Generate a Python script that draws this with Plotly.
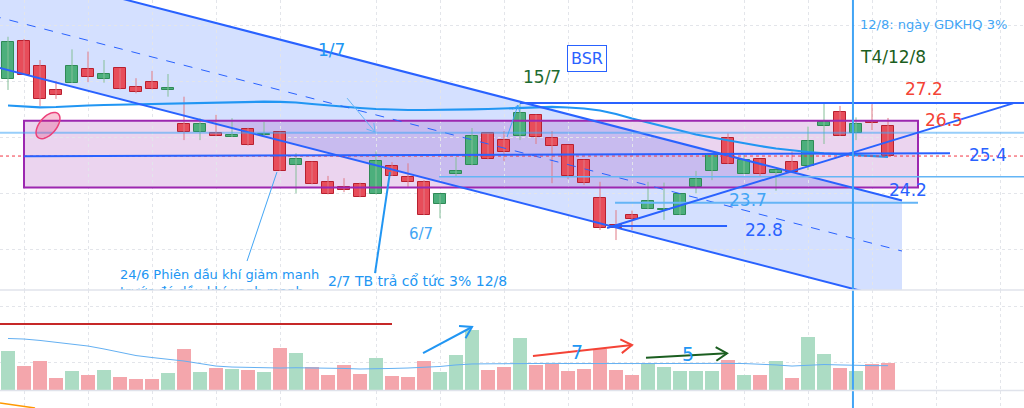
import math

import plotly.graph_objects as go

# --------------------------------------------------------------------------- #
# Data: BSR daily candles (price in thousand VND, volume in million shares)    #
# --------------------------------------------------------------------------- #

OPEN = [28.06, 29.43, 28.54, 27.68, 27.94, 28.44, 28.08, 28.45, 27.79, 27.95,
        27.67, 26.45, 26.17, 26.13, 26.00, 26.28, 26.06, 26.19, 24.99, 25.12,
        24.38, 24.20, 24.31, 23.95, 24.96, 24.58, 24.39, 23.61, 24.69, 24.99,
        26.13, 25.88, 26.04, 26.78, 25.98, 25.71, 25.19, 23.82, 22.85, 23.20,
        23.42, 23.38, 23.21, 24.21, 24.79, 25.98, 24.69, 25.20, 24.71, 25.10,
        24.98, 26.39, 26.90, 26.15, 26.57, 26.39]
HIGH = [29.58, 29.50, 28.75, 28.00, 29.13, 29.05, 28.75, 28.45, 28.10, 28.36,
        28.25, 27.44, 26.67, 26.79, 26.67, 26.33, 26.54, 26.19, 25.42, 25.12,
        24.61, 24.53, 24.37, 25.48, 25.10, 25.06, 24.46, 23.95, 25.28, 26.32,
        26.13, 26.21, 27.20, 26.80, 26.21, 25.71, 25.19, 24.40, 23.39, 23.37,
        24.40, 24.37, 23.95, 24.79, 25.36, 26.13, 25.36, 25.20, 24.83, 25.48,
        26.37, 27.18, 27.11, 26.70, 27.17, 26.68]
LOW = [27.68, 28.23, 27.11, 27.36, 27.93, 27.96, 27.94, 27.70, 27.56, 27.70,
       27.44, 25.89, 25.89, 26.03, 26.00, 25.69, 26.01, 24.79, 23.99, 24.31,
       23.95, 24.03, 23.85, 23.95, 24.61, 24.22, 23.21, 23.10, 24.58, 24.99,
       25.20, 25.15, 25.89, 25.75, 24.35, 24.50, 24.29, 22.68, 22.32, 22.68,
       23.42, 23.04, 23.21, 23.99, 24.46, 25.04, 24.69, 24.61, 24.08, 24.75,
       24.82, 25.75, 26.04, 25.89, 26.25, 25.32]
CLOSE = [29.38, 28.23, 27.36, 27.50, 28.55, 28.15, 28.25, 27.70, 27.61, 27.70,
         27.76, 26.17, 26.45, 26.03, 26.08, 25.73, 26.11, 24.79, 25.20, 24.31,
         23.95, 24.10, 23.85, 25.13, 24.61, 24.38, 23.21, 23.95, 24.79, 26.04,
         25.20, 25.45, 26.85, 25.99, 25.68, 24.61, 24.36, 22.74, 22.74, 23.07,
         23.71, 23.40, 23.95, 24.49, 25.36, 25.04, 25.18, 24.69, 24.83, 24.75,
         25.87, 26.55, 26.04, 26.46, 26.50, 25.32]
VOLUME = [2.79, 1.71, 2.07, 0.84, 1.36, 1.09, 1.41, 0.93, 0.81, 0.81,
          1.24, 2.93, 1.31, 1.55, 1.52, 1.45, 1.26, 3.02, 2.66, 1.64,
          1.07, 1.81, 1.16, 2.29, 0.98, 0.91, 2.07, 1.31, 2.52, 4.29,
          1.45, 1.62, 3.74, 1.79, 1.84, 1.38, 1.52, 2.91, 1.43, 1.05,
          1.91, 1.64, 1.34, 1.34, 1.34, 2.14, 1.05, 1.05, 2.05, 0.84,
          3.81, 2.59, 1.59, 1.38, 1.84, 1.91]
PRICE_MA = [27.125, 27.089, 27.061, 27.071, 27.107, 27.125, 27.143, 27.157, 27.168, 27.179,
            27.189, 27.204, 27.214, 27.225, 27.239, 27.250, 27.261, 27.257, 27.232, 27.179,
            27.125, 27.071, 27.036, 27.000, 26.975, 26.964, 26.964, 26.964, 26.975, 26.989,
            27.000, 27.025, 27.054, 27.079, 27.079, 27.054, 27.018, 26.946, 26.821, 26.661,
            26.518, 26.375, 26.232, 26.089, 25.982, 25.875, 25.786, 25.679, 25.589, 25.518,
            25.464, 25.418, 25.382, 25.350, 25.321, 25.293]
VOLUME_MA = [3.68, 3.64, 3.54, 3.39, 3.25, 3.14, 2.93, 2.68, 2.46, 2.32,
             2.21, 2.07, 1.89, 1.71, 1.64, 1.61, 1.57, 1.57, 1.59, 1.59,
             1.57, 1.54, 1.50, 1.50, 1.54, 1.57, 1.61, 1.68, 1.79, 1.86,
             1.87, 1.89, 1.91, 1.91, 1.90, 1.89, 1.90, 1.92, 1.91, 1.89,
             1.89, 1.90, 1.90, 1.89, 1.88, 1.90, 1.89, 1.86, 1.79, 1.71,
             1.79, 1.82, 1.79, 1.75, 1.74, 1.74]

BARS = list(range(len(CLOSE)))
X_GRID = [1, 5, 9, 13, 17, 23, 27, 31, 35, 39, 46, 50, 54, 58, 62]
PRICE_GRID = [22, 24, 26, 28, 30]
VOLUME_GRID = [2, 6]

# --------------------------------------------------------------------------- #
# Geometry of the panes (TradingView-like screenshot, 1024 x 408)              #
# --------------------------------------------------------------------------- #

W, H = 1024, 408
BAR_PX = 16.0            # horizontal pixels per bar
PRICE_PX = 28.0          # pixels per 1.0 price unit
VOL_PX = 14.0            # pixels per 1M shares
X_RANGE = [-0.5, W / BAR_PX - 0.5]
PRICE_RANGE = [30 - (290 - 25) / PRICE_PX, 30 + 25 / PRICE_PX]
VOL_RANGE = [0, 100 / VOL_PX]

FONT = "DejaVu Sans"
UP, UP_EDGE, UP_WICK = "#4caf7c", "#2f8a56", "#84bf98"
DOWN, DOWN_EDGE, DOWN_WICK = "#e84d5a", "#b8202f", "#e07a85"
VOL_UP, VOL_DOWN = "#acdcc4", "#f4a6ac"
BLUE, LIGHT_BLUE, SKY = "#2962ff", "#42a5f5", "#2196f3"

is_up = [c >= o for o, c in zip(OPEN, CLOSE)]


def wick_xy(idx):
    xs, ys = [], []
    for i in idx:
        xs += [i, i, None]
        ys += [LOW[i], HIGH[i], None]
    return xs, ys


def chevron(x0, y0, x1, y1, ypx, arm=12.0, spread=32):
    """Open arrow head at (x1, y1); works in pixel space, returns data path."""
    ang = math.atan2((y1 - y0) * ypx, (x1 - x0) * BAR_PX)
    pts = []
    for s in (spread, -spread):
        a = ang + math.pi + math.radians(s)
        pts.append((x1 + arm * math.cos(a) / BAR_PX, y1 + arm * math.sin(a) / ypx))
    (ax, ay), (bx, by) = pts
    return f"M {ax},{ay} L {x1},{y1} L {bx},{by}"


def seg(x0, y0, x1, y1, color, width=2, yref="y", dash="solid", layer="above"):
    return dict(type="line", xref="x", yref=yref, x0=x0, y0=y0, x1=x1, y1=y1,
                line=dict(color=color, width=width, dash=dash), layer=layer)


def arrow(x0, y0, x1, y1, color, width=2, yref="y", ypx=PRICE_PX, arm=12.0):
    return [
        seg(x0, y0, x1, y1, color, width, yref),
        dict(type="path", xref="x", yref=yref, path=chevron(x0, y0, x1, y1, ypx, arm),
             line=dict(color=color, width=width), layer="above"),
    ]


def label(text, x, y, color, size=17, yref="y", xanchor="center", **kw):
    return dict(text=text, x=x, y=y, xref="x", yref=yref, showarrow=False,
                xanchor=xanchor, yanchor="middle",
                font=dict(family=FONT, size=size, color=color), **kw)


fig = go.Figure()

# --- candles ---------------------------------------------------------------
for up, fill, edge, wick in ((True, UP, UP_EDGE, UP_WICK), (False, DOWN, DOWN_EDGE, DOWN_WICK)):
    idx = [i for i in BARS if is_up[i] == up]
    wx, wy = wick_xy(idx)
    fig.add_trace(go.Scatter(x=wx, y=wy, mode="lines", line=dict(color=wick, width=1),
                             hoverinfo="skip", showlegend=False))
    fig.add_trace(go.Bar(
        x=idx,
        base=[min(OPEN[i], CLOSE[i]) for i in idx],
        y=[max(abs(CLOSE[i] - OPEN[i]), 0.06) for i in idx],
        width=0.74,
        marker=dict(color=fill, line=dict(color=edge, width=1)),
        showlegend=False, hoverinfo="skip",
    ))

fig.add_trace(go.Scatter(x=BARS, y=PRICE_MA, mode="lines", line=dict(color=SKY, width=2.2),
                         hoverinfo="skip", showlegend=False))

# --- volume pane -----------------------------------------------------------
fig.add_trace(go.Bar(
    x=BARS, y=VOLUME, yaxis="y2", width=0.9,
    marker=dict(color=[VOL_UP if u else VOL_DOWN for u in is_up], line=dict(width=0)),
    showlegend=False, hoverinfo="skip",
))
fig.add_trace(go.Scatter(x=BARS, y=VOLUME_MA, yaxis="y2", mode="lines",
                         line=dict(color="#64b0f2", width=1), hoverinfo="skip", showlegend=False))

# bottom indicator pane (only a stub of its orange line is visible)
fig.add_trace(go.Scatter(x=[-0.5, 1.69], y=[5, 0], yaxis="y3", mode="lines",
                         line=dict(color="#ff9800", width=1.5), hoverinfo="skip", showlegend=False))

# texts that are cut by the pane border (clipped with the price pane)
fig.add_trace(go.Scatter(
    x=[7.0, 20.0], y=[20.75, 20.80], mode="text",
    text=["24/6 Phiên dầu khí giảm manh<br>trước đó dầu khí xanh manh",
          "2/7 TB trả cổ tức 3% 12/8"],
    textposition="middle right",
    textfont=dict(family=FONT, size=[13, 14], color=SKY),
    cliponaxis=True, hoverinfo="skip", showlegend=False,
))

# --------------------------------------------------------------------------- #
# Drawings                                                                     #
# --------------------------------------------------------------------------- #

CH_X = [-1.0, 55.875]
CH_UPPER = [32.14, 23.73]
CH_WIDTH = 3.605
ch_lower = [p - CH_WIDTH for p in CH_UPPER]
ch_mid = [p - CH_WIDTH / 2 for p in CH_UPPER]

shapes = [
    # parallel channel fill
    dict(type="path", xref="x", yref="y", layer="below", line=dict(width=0),
         fillcolor="rgba(41,98,255,0.2)",
         path=(f"M {CH_X[0]},{CH_UPPER[0]} L {CH_X[1]},{CH_UPPER[1]} "
               f"L {CH_X[1]},{ch_lower[1]} L {CH_X[0]},{ch_lower[0]} Z")),
    # purple range box
    dict(type="rect", xref="x", yref="y", x0=1.0, x1=56.875, y0=24.20, y1=26.58,
         fillcolor="rgba(156,39,176,0.2)", line=dict(width=0), layer="below"),
    dict(type="rect", xref="x", yref="y", x0=1.0, x1=56.875, y0=24.20, y1=26.58,
         fillcolor="rgba(0,0,0,0)", line=dict(color="#9c27b0", width=2), layer="above"),
    # channel lines
    seg(CH_X[0], CH_UPPER[0], CH_X[1], CH_UPPER[1], BLUE),
    seg(CH_X[0], ch_lower[0], CH_X[1], ch_lower[1], BLUE),
    seg(CH_X[0], ch_mid[0], CH_X[1], ch_mid[1], BLUE, width=1, dash="dash"),
    # horizontal levels
    seg(X_RANGE[0], CLOSE[-1], X_RANGE[1], CLOSE[-1], "#f23645", width=1, dash="dot"),
    seg(X_RANGE[0], 26.15, X_RANGE[1], 26.15, "rgba(66,165,245,0.55)", width=2),
    seg(26.94, 24.58, X_RANGE[1], 24.58, "#64b5f6", width=1.5),
    seg(32.0, 27.21, X_RANGE[1], 27.21, BLUE),
    seg(1.0, 25.31, 58.875, 25.42, BLUE),
    seg(37.94, 23.65, 56.875, 23.65, "#64b5f6", width=2),
    seg(37.8, 22.82, 44.94, 22.82, BLUE),
    # rising support
    seg(37.44, 22.75, 62.81, 27.20, BLUE),
    # pointers to the notes
    seg(14.94, 21.57, 16.81, 24.75, LIGHT_BLUE, width=1),
    seg(22.94, 21.14, 23.875, 24.75, SKY, width=2),
    # ex-dividend day marker
    dict(type="line", xref="x", yref="paper", x0=52.81, x1=52.81, y0=0, y1=1,
         line=dict(color=LIGHT_BLUE, width=2), layer="above"),
    # volume pane
    seg(X_RANGE[0], 4.71, 24.0, 4.71, "#c62828", yref="y2"),
    # pane separators
    dict(type="line", xref="paper", yref="paper", x0=0, x1=1, y0=118 / H, y1=118 / H,
         line=dict(color="#e0e3eb", width=1.5), layer="above"),
    dict(type="line", xref="paper", yref="paper", x0=0, x1=1, y0=17.5 / H, y1=17.5 / H,
         line=dict(color="#e0e3eb", width=1.5), layer="above"),
]

shapes += arrow(21.19, 27.39, 22.94, 26.18, "#64b5f6", width=1, arm=9)
shapes += arrow(31.19, 26.00, 31.875, 27.14, LIGHT_BLUE, width=1, arm=7)
shapes += arrow(25.94, 2.64, 29.0, 4.50, SKY, yref="y2", ypx=VOL_PX, arm=13)
shapes += arrow(32.81, 2.43, 39.0, 3.21, "#f44336", yref="y2", ypx=VOL_PX, arm=13)
shapes += arrow(39.875, 2.31, 44.94, 2.62, "#1b5e20", yref="y2", ypx=VOL_PX, arm=13)

# highlighted ellipse at the start
cx, cy, a_px, b_px, tilt = 2.5, 26.41, 15.6, 8.5, math.radians(50)
pts = []
for k in range(41):
    t = 2 * math.pi * k / 40
    ex = a_px * math.cos(t) * math.cos(tilt) - b_px * math.sin(t) * math.sin(tilt)
    ey = a_px * math.cos(t) * math.sin(tilt) + b_px * math.sin(t) * math.cos(tilt)
    pts.append(f"{cx + ex / BAR_PX},{cy + ey / PRICE_PX}")
shapes.append(dict(type="path", xref="x", yref="y", path="M " + " L ".join(pts) + " Z",
                   fillcolor="rgba(233,30,99,0.25)", line=dict(color="#ec407a", width=1.5),
                   layer="above"))

annotations = [
    label("1/7", 20.19, 29.11, SKY),
    label("BSR", 36.19, 28.79, BLUE, size=16, bordercolor=BLUE, borderwidth=1,
          borderpad=3, bgcolor="white"),
    label("15/7", 33.375, 28.14, "#1e6b30"),
    label("12/8: ngày GDKHQ 3%", 53.1, 30.02, LIGHT_BLUE, size=13, xanchor="left"),
    label("T4/12/8", 53.1, 28.84, "#1b5e20", xanchor="left"),
    label("27.2", 57.28, 27.70, "#f44336"),
    label("26.5", 58.47, 26.59, "#f44336"),
    label("25.4", 61.25, 25.34, BLUE),
    label("24.2", 56.28, 24.11, BLUE),
    label("23.7", 46.25, 23.75, LIGHT_BLUE),
    label("22.8", 47.28, 22.68, BLUE),
    label("6/7", 25.84, 22.54, LIGHT_BLUE, size=15),
    label("ồ chủ đạo klg thấp", -0.6, 6.5, "#c62828", size=13, yref="y2", xanchor="left"),
    label("7", 35.56, 2.71, SKY, size=19, yref="y2"),
    label("5", 42.5, 2.54, SKY, size=19, yref="y2"),
]

grid = dict(showgrid=True, gridcolor="#e3e5ea", griddash="dot", gridwidth=1,
            showticklabels=False, zeroline=False, showline=False, ticks="", fixedrange=True)

fig.update_layout(
    width=W, height=H,
    margin=dict(l=0, r=0, t=0, b=0),
    paper_bgcolor="white", plot_bgcolor="white",
    barmode="overlay", bargap=0,
    showlegend=False,
    xaxis=dict(range=X_RANGE, tickvals=X_GRID, anchor="y3", **grid),
    yaxis=dict(domain=[118 / H, 1], range=PRICE_RANGE, tickvals=PRICE_GRID, **grid),
    yaxis2=dict(domain=[18 / H, 118 / H], range=VOL_RANGE, tickvals=VOLUME_GRID, **grid),
    yaxis3=dict(domain=[0, 17 / H], range=[0, 17], tickvals=[], **grid),
    shapes=shapes,
    annotations=annotations,
    font=dict(family=FONT),
)

# the page's default body margin would shift the 1024x408 figure out of view
fig.write_html("out.html", config={"displayModeBar": False},
               post_script="document.body.style.margin='0';")
